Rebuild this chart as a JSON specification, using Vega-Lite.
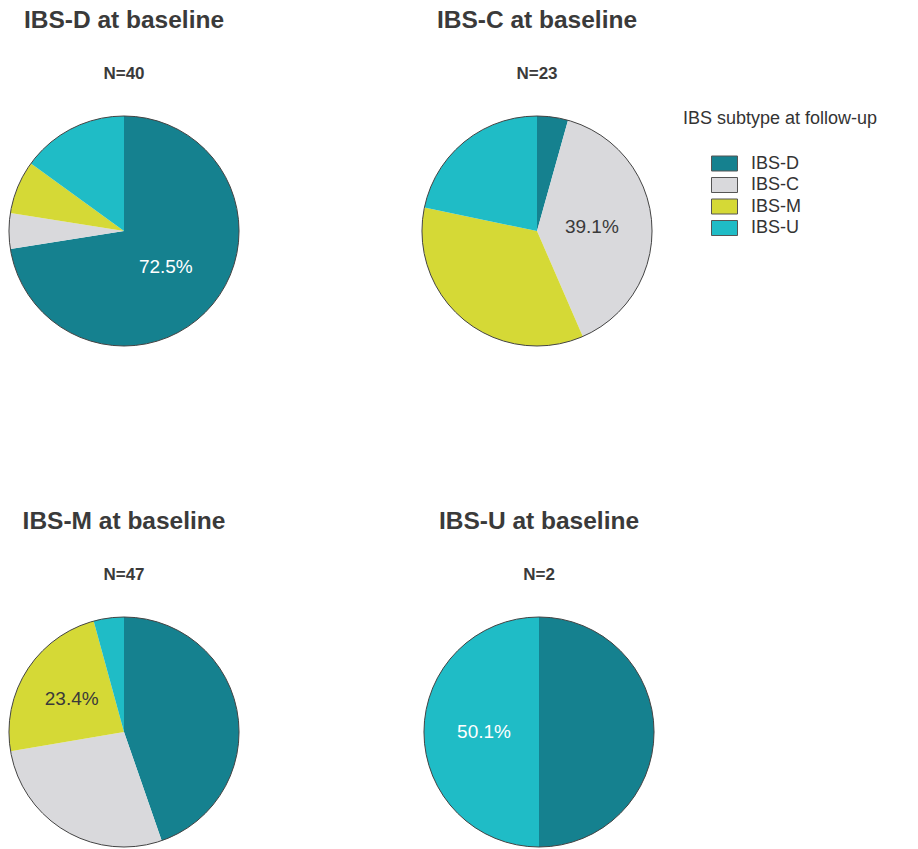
{
  "$schema": "https://vega.github.io/schema/vega-lite/v6.json",
  "padding": {"left": 7, "top": 7, "right": 0, "bottom": 0},
  "background": "white",
  "data": {"values": [
    {"baseline": "IBS-D", "subtype": "IBS-D", "n": 29, "rank": 1, "label": "72.5%"},
    {"baseline": "IBS-D", "subtype": "IBS-C", "n": 2, "rank": 2, "label": ""},
    {"baseline": "IBS-D", "subtype": "IBS-M", "n": 3, "rank": 3, "label": ""},
    {"baseline": "IBS-D", "subtype": "IBS-U", "n": 6, "rank": 4, "label": ""},
    {"baseline": "IBS-C", "subtype": "IBS-D", "n": 1, "rank": 1, "label": ""},
    {"baseline": "IBS-C", "subtype": "IBS-C", "n": 9, "rank": 2, "label": "39.1%"},
    {"baseline": "IBS-C", "subtype": "IBS-M", "n": 8, "rank": 3, "label": ""},
    {"baseline": "IBS-C", "subtype": "IBS-U", "n": 5, "rank": 4, "label": ""},
    {"baseline": "IBS-M", "subtype": "IBS-D", "n": 21, "rank": 1, "label": ""},
    {"baseline": "IBS-M", "subtype": "IBS-C", "n": 13, "rank": 2, "label": ""},
    {"baseline": "IBS-M", "subtype": "IBS-M", "n": 11, "rank": 3, "label": "23.4%"},
    {"baseline": "IBS-M", "subtype": "IBS-U", "n": 2, "rank": 4, "label": ""},
    {"baseline": "IBS-U", "subtype": "IBS-D", "n": 1, "rank": 1, "label": ""},
    {"baseline": "IBS-U", "subtype": "IBS-C", "n": 0, "rank": 2, "label": ""},
    {"baseline": "IBS-U", "subtype": "IBS-M", "n": 0, "rank": 3, "label": ""},
    {"baseline": "IBS-U", "subtype": "IBS-U", "n": 1, "rank": 4, "label": "50.1%"}
  ]},
  "config": {
    "view": {"stroke": null},
    "font": "Liberation Sans",
    "title": {
      "anchor": "middle", "font": "Liberation Sans", "fontSize": 24.5, "fontWeight": "bold", "color": "#3a3a3a",
      "subtitleFont": "Liberation Sans", "subtitleFontSize": 17, "subtitleFontWeight": "bold", "subtitleColor": "#3a3a3a",
      "subtitlePadding": 33, "offset": 31
    },
    "legend": {
      "titleFont": "Liberation Sans", "titleFontSize": 18, "titleFontWeight": "normal", "titleColor": "#333333", "titleLimit": 400,
      "titlePadding": 25, "labelFont": "Liberation Sans", "labelFontSize": 18, "labelColor": "#333333",
      "symbolType": "M-1.3,-0.75H1.3V0.75H-1.3Z", "symbolSize": 400, "symbolStrokeColor": "#555555", "symbolStrokeWidth": 1,
      "symbolOpacity": 1, "symbolOffset": 31, "labelOffset": 16, "rowPadding": 1.5
    }
  },
  "resolve": {"scale": {"color": "shared", "theta": "independent"}, "legend": {"color": "shared"}},
  "spacing": 160,
  "vconcat": [
    {
      "spacing": 179,
      "resolve": {"scale": {"color": "shared", "theta": "independent"}, "legend": {"color": "shared"}},
      "hconcat": [
        {
          "width": 230, "height": 230,
          "title": {"text": "IBS-D at baseline", "subtitle": "N=40"},
          "layer": [
            {"transform": [{"filter": "datum.baseline === 'IBS-D'"}],
             "mark": {"type": "arc"},
             "encoding": {
               "theta": {"field": "n", "type": "quantitative", "stack": true},
               "order": {"field": "rank", "type": "quantitative"},
               "color": {"field": "subtype", "type": "nominal", "title": "IBS subtype at follow-up",
                 "scale": {"domain": ["IBS-D", "IBS-C", "IBS-M", "IBS-U"], "range": ["#15818f", "#d9d9dc", "#d5d936", "#1fbcc6"]},
                 "legend": {"orient": "none", "legendX": 674, "legendY": -6}}
             }},
            {"transform": [{"filter": "datum.baseline === 'IBS-D'"}],
             "mark": {"type": "text", "radius": 55, "fontSize": 19, "font": "Liberation Sans"},
             "encoding": {
               "theta": {"field": "n", "type": "quantitative", "stack": true},
               "order": {"field": "rank", "type": "quantitative"},
               "text": {"field": "label"},
               "color": {"condition": {"test": "datum.subtype === 'IBS-D' || datum.subtype === 'IBS-U'", "value": "white"}, "value": "#3a3a3a"}
             }},
            {"data": {"values": [{}]},
             "mark": {"type": "arc", "theta": 0, "theta2": 6.2832, "filled": false, "stroke": "#444444", "strokeWidth": 1},
             "encoding": {}}
          ]
        },
        {
          "width": 230, "height": 230,
          "title": {"text": "IBS-C at baseline", "subtitle": "N=23"},
          "layer": [
            {"transform": [{"filter": "datum.baseline === 'IBS-C'"}],
             "mark": {"type": "arc"},
             "encoding": {
               "theta": {"field": "n", "type": "quantitative", "stack": true},
               "order": {"field": "rank", "type": "quantitative"},
               "color": {"field": "subtype", "type": "nominal", "title": "IBS subtype at follow-up",
                 "scale": {"domain": ["IBS-D", "IBS-C", "IBS-M", "IBS-U"], "range": ["#15818f", "#d9d9dc", "#d5d936", "#1fbcc6"]},
                 "legend": {"orient": "none", "legendX": 674, "legendY": -6}}
             }},
            {"transform": [{"filter": "datum.baseline === 'IBS-C'"}],
             "mark": {"type": "text", "radius": 55, "fontSize": 19, "font": "Liberation Sans"},
             "encoding": {
               "theta": {"field": "n", "type": "quantitative", "stack": true},
               "order": {"field": "rank", "type": "quantitative"},
               "text": {"field": "label"},
               "color": {"condition": {"test": "datum.subtype === 'IBS-D' || datum.subtype === 'IBS-U'", "value": "white"}, "value": "#3a3a3a"}
             }},
            {"data": {"values": [{}]},
             "mark": {"type": "arc", "theta": 0, "theta2": 6.2832, "filled": false, "stroke": "#444444", "strokeWidth": 1},
             "encoding": {}}
          ]
        }
      ]
    },
    {
      "spacing": 181,
      "resolve": {"scale": {"color": "shared", "theta": "independent"}, "legend": {"color": "shared"}},
      "hconcat": [
        {
          "width": 230, "height": 230,
          "title": {"text": "IBS-M at baseline", "subtitle": "N=47"},
          "layer": [
            {"transform": [{"filter": "datum.baseline === 'IBS-M'"}],
             "mark": {"type": "arc"},
             "encoding": {
               "theta": {"field": "n", "type": "quantitative", "stack": true},
               "order": {"field": "rank", "type": "quantitative"},
               "color": {"field": "subtype", "type": "nominal", "title": "IBS subtype at follow-up",
                 "scale": {"domain": ["IBS-D", "IBS-C", "IBS-M", "IBS-U"], "range": ["#15818f", "#d9d9dc", "#d5d936", "#1fbcc6"]},
                 "legend": {"orient": "none", "legendX": 674, "legendY": -6}}
             }},
            {"transform": [{"filter": "datum.baseline === 'IBS-M'"}],
             "mark": {"type": "text", "radius": 62, "fontSize": 19, "font": "Liberation Sans"},
             "encoding": {
               "theta": {"field": "n", "type": "quantitative", "stack": true},
               "order": {"field": "rank", "type": "quantitative"},
               "text": {"field": "label"},
               "color": {"condition": {"test": "datum.subtype === 'IBS-D' || datum.subtype === 'IBS-U'", "value": "white"}, "value": "#3a3a3a"}
             }},
            {"data": {"values": [{}]},
             "mark": {"type": "arc", "theta": 0, "theta2": 6.2832, "filled": false, "stroke": "#444444", "strokeWidth": 1},
             "encoding": {}}
          ]
        },
        {
          "width": 230, "height": 230,
          "title": {"text": "IBS-U at baseline", "subtitle": "N=2"},
          "layer": [
            {"transform": [{"filter": "datum.baseline === 'IBS-U'"}],
             "mark": {"type": "arc"},
             "encoding": {
               "theta": {"field": "n", "type": "quantitative", "stack": true},
               "order": {"field": "rank", "type": "quantitative"},
               "color": {"field": "subtype", "type": "nominal", "title": "IBS subtype at follow-up",
                 "scale": {"domain": ["IBS-D", "IBS-C", "IBS-M", "IBS-U"], "range": ["#15818f", "#d9d9dc", "#d5d936", "#1fbcc6"]},
                 "legend": {"orient": "none", "legendX": 674, "legendY": -6}}
             }},
            {"transform": [{"filter": "datum.baseline === 'IBS-U'"}],
             "mark": {"type": "text", "radius": 55, "fontSize": 19, "font": "Liberation Sans"},
             "encoding": {
               "theta": {"field": "n", "type": "quantitative", "stack": true},
               "order": {"field": "rank", "type": "quantitative"},
               "text": {"field": "label"},
               "color": {"condition": {"test": "datum.subtype === 'IBS-D' || datum.subtype === 'IBS-U'", "value": "white"}, "value": "#3a3a3a"}
             }},
            {"data": {"values": [{}]},
             "mark": {"type": "arc", "theta": 0, "theta2": 6.2832, "filled": false, "stroke": "#444444", "strokeWidth": 1},
             "encoding": {}}
          ]
        }
      ]
    }
  ]
}
